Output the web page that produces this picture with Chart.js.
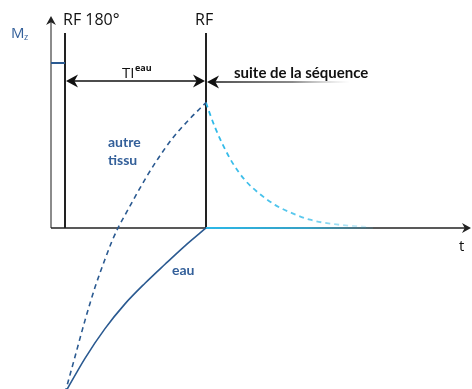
<!DOCTYPE html>
<html>
<head>
<meta charset="utf-8">
<script src="https://cdn.jsdelivr.net/npm/chart.js@4"></script>
<style>
  body { margin: 0; background: #fff; }
  #wrap { width: 472px; height: 389px; position: relative; }
</style>
</head>
<body>
<div id="wrap"><canvas id="irChart"></canvas></div>
<script>
// values (t counted from the RF 180° pulse, Mz relative to M0)
const tEau = [0, 20, 40, 60, 80, 100, 120, 141];
const mEau = [-1, -0.79, -0.61, -0.46, -0.335, -0.22, -0.108, 0];
const tAutre = [0, 10, 20, 30, 40, 47, 53, 62, 72, 82, 93, 107, 123, 141];
const mAutre = [-1, -0.78, -0.56, -0.36, -0.19, -0.08, 0, 0.10, 0.21, 0.315, 0.42, 0.54, 0.65, 0.76];
const tDecay = [141, 145, 150, 159, 168, 180, 195, 210, 227, 245, 268, 302];
const mDecay = [0.76, 0.69, 0.61, 0.49, 0.39, 0.29, 0.205, 0.14, 0.09, 0.05, 0.024, 0.006];
const tEauAfter = [141, 308];
const mEauAfter = [0, 0];
const tStart = [-14, 0];
const mStart = [1, 1];
const TI = 141;

const darkBlue = '#2b5a91';
const cyan = '#2bb8e8';

const pts = (xs, ys) => xs.map((x, i) => ({x: x, y: ys[i]}));

// fading stroke for the part after the second RF
function fade(color, rgb) {
  return (c) => {
    const area = c.chart.chartArea;
    if (!area) return color;
    const xs = c.chart.scales.x;
    const g = c.chart.ctx.createLinearGradient(xs.getPixelForValue(TI), 0, xs.getPixelForValue(310), 0);
    g.addColorStop(0, 'rgba(' + rgb + ',1)');
    g.addColorStop(0.6, 'rgba(' + rgb + ',0.75)');
    g.addColorStop(1, 'rgba(' + rgb + ',0.1)');
    return g;
  };
}

function arrowHead(ctx, x, y, dir, size) {
  // dir: 'up', 'right', 'left'
  ctx.save();
  ctx.translate(x, y);
  if (dir === 'up') ctx.rotate(-Math.PI / 2);
  if (dir === 'left') ctx.rotate(Math.PI);
  ctx.beginPath();
  ctx.moveTo(0, 0);
  ctx.lineTo(-size, -size * 0.55);
  ctx.lineTo(-size * 0.7, 0);
  ctx.lineTo(-size, size * 0.55);
  ctx.closePath();
  ctx.fill();
  ctx.restore();
}

const decorPlugin = {
  id: 'decor',
  beforeDatasetsDraw(chart) {
    const ctx = chart.ctx;
    const xs = chart.scales.x, ys = chart.scales.y;
    const x0 = xs.getPixelForValue(-14);
    const y0 = ys.getPixelForValue(0);
    ctx.save();
    // y axis
    ctx.strokeStyle = '#666';
    ctx.fillStyle = '#222';
    ctx.lineWidth = 1.5;
    ctx.beginPath();
    ctx.moveTo(x0, y0);
    ctx.lineTo(x0, 20);
    ctx.stroke();
    arrowHead(ctx, x0, 16, 'up', 9);
    // x axis
    ctx.strokeStyle = '#222';
    ctx.beginPath();
    ctx.moveTo(x0, y0);
    ctx.lineTo(466, y0);
    ctx.stroke();
    arrowHead(ctx, 471, y0, 'right', 9);
    // RF lines
    ctx.lineWidth = 2;
    ctx.strokeStyle = '#222';
    [0, TI].forEach(t => {
      const px = xs.getPixelForValue(t);
      ctx.beginPath();
      ctx.moveTo(px, 33);
      ctx.lineTo(px, y0);
      ctx.stroke();
    });
    ctx.restore();
  },
  afterDatasetsDraw(chart) {
    const ctx = chart.ctx;
    const xs = chart.scales.x;
    const pRF180 = xs.getPixelForValue(0);
    const pRF = xs.getPixelForValue(TI);
    const yArr = 81;
    ctx.save();
    // TI double arrow
    ctx.strokeStyle = '#111';
    ctx.fillStyle = '#111';
    ctx.lineWidth = 1.5;
    ctx.beginPath();
    ctx.moveTo(pRF180 + 4, yArr);
    ctx.lineTo(pRF - 4, yArr);
    ctx.stroke();
    arrowHead(ctx, pRF180 + 1, yArr, 'left', 12);
    arrowHead(ctx, pRF - 1, yArr, 'right', 12);
    // suite de la sequence arrow, fading out
    const g = ctx.createLinearGradient(pRF, 0, 350, 0);
    g.addColorStop(0, 'rgba(17,17,17,1)');
    g.addColorStop(0.6, 'rgba(60,60,60,0.8)');
    g.addColorStop(1, 'rgba(150,150,150,0)');
    ctx.strokeStyle = g;
    ctx.beginPath();
    ctx.moveTo(pRF + 6, yArr + 1);
    ctx.lineTo(350, yArr + 1);
    ctx.stroke();
    arrowHead(ctx, pRF + 1, yArr + 1, 'left', 12);

    // texts
    ctx.textBaseline = 'alphabetic';
    ctx.fillStyle = '#111';
    ctx.font = '16px "Open Sans", sans-serif';
    ctx.fillText('RF 180°', 63, 25);
    ctx.fillText('RF', 195, 25);
    ctx.font = '15px "Open Sans", sans-serif';
    ctx.fillText('t', 459, 251);
    ctx.font = '15px "Open Sans", sans-serif';
    ctx.fillText('TI', 122, 78);
    ctx.font = 'bold 9px "Open Sans", sans-serif';
    ctx.fillText('eau', 135, 71);
    ctx.font = 'bold 15px Lato, sans-serif';
    ctx.fillText('suite de la séquence', 234, 78);

    ctx.fillStyle = '#34609a';
    ctx.font = '15px "Open Sans", sans-serif';
    ctx.fillText('M', 11, 38);
    ctx.font = '9px "Open Sans", sans-serif';
    ctx.fillText('z', 24, 40);
    ctx.font = 'bold 14px Lato, sans-serif';
    ctx.fillText('autre', 108, 147);
    ctx.fillText('tissu', 108, 165);
    ctx.fillText('eau', 172, 275);
    ctx.restore();
  }
};

const lineBase = {fill: false, pointRadius: 0, tension: 0.4, cubicInterpolationMode: 'monotone'};

new Chart(document.getElementById('irChart'), {
  type: 'line',
  data: {
    datasets: [
      Object.assign({}, lineBase, {label: 'M0', data: pts(tStart, mStart), borderColor: darkBlue, borderWidth: 2, tension: 0}),
      Object.assign({}, lineBase, {label: 'eau', data: pts(tEau, mEau), borderColor: darkBlue, borderWidth: 1.6}),
      Object.assign({}, lineBase, {label: 'autre tissu', data: pts(tAutre, mAutre), borderColor: darkBlue, borderWidth: 1.6, borderDash: [5, 4]}),
      Object.assign({}, lineBase, {label: 'autre tissu (suite)', data: pts(tDecay, mDecay), borderColor: fade(cyan, '43,184,232'), borderWidth: 1.8, borderDash: [5, 4]}),
      Object.assign({}, lineBase, {label: 'eau (suite)', data: pts(tEauAfter, mEauAfter), borderColor: fade(cyan, '43,184,232'), borderWidth: 2, tension: 0})
    ]
  },
  options: {
    responsive: true,
    maintainAspectRatio: false,
    animation: false,
    layout: {padding: {left: 51, right: 1, top: 13.5, bottom: 0}},
    scales: {
      x: {type: 'linear', min: -14, max: 406, display: false},
      y: {min: -0.976, max: 1.3, display: false}
    },
    plugins: {
      legend: {display: false},
      tooltip: {enabled: false}
    }
  },
  plugins: [decorPlugin]
});
</script>
</body>
</html>
